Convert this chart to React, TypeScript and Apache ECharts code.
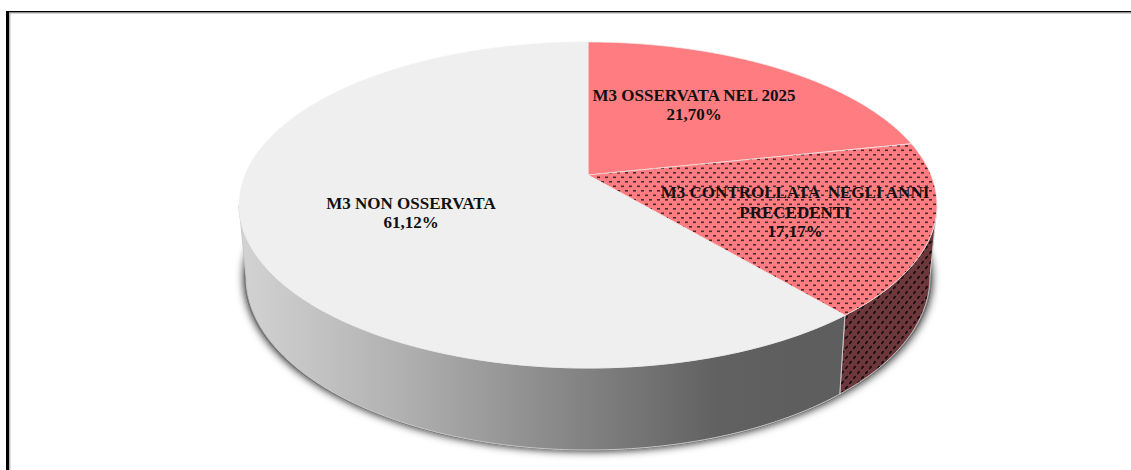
import React, { useEffect, useRef } from "react";
import * as echarts from "echarts";

const sliceNames = ["M3 OSSERVATA NEL 2025", "M3 CONTROLLATA  NEGLI ANNI\nPRECEDENTI", "M3 NON OSSERVATA"];
const sliceValues = [21.7, 17.17, 61.12];
const sliceLabels = ["21,70%", "17,17%", "61,12%"];

// projection of the pie disc
const CX = 588;
const TOP_Y = 175; // where the slices meet
const A = 125.3;
const C = -0.184;
const D = 343;
// top ellipse and base ellipse
const EL = { cy: 205, rx: 349, ry: 163 };
const BASE = { cy: 277, rx: 342, ry: 173 };
const LABEL_POS = [
  [694, 105],
  [795, 212],
  [411, 213],
];

const RAD = Math.PI / 180;
const total = sliceValues.reduce((a, b) => a + b, 0);
const starts: number[] = [];
sliceValues.reduce((acc, v, i) => {
  starts[i] = (acc / total) * 360;
  return acc + v;
}, 0);
const range = (i: number) => [starts[i], starts[i] + (sliceValues[i] / total) * 360];

function topPoint(deg: number): [number, number] {
  const u = Math.sin(deg * RAD);
  const v = -Math.cos(deg * RAD);
  const w = 1 + C * v;
  return [CX + (D * u) / w, (A * v + TOP_Y) / w];
}
function basePoint(deg: number): [number, number] {
  const [x, y] = topPoint(deg);
  const nx = (x - CX) / EL.rx;
  const ny = (y - EL.cy) / EL.ry;
  return [CX + BASE.rx * nx, BASE.cy + BASE.ry * ny];
}
function arc(fn: (d: number) => [number, number], a: number, b: number) {
  const n = Math.max(2, Math.ceil(Math.abs(b - a) / 0.5));
  const pts: [number, number][] = [];
  for (let i = 0; i <= n; i++) pts.push(fn(a + ((b - a) * i) / n));
  return pts;
}
const VIS_RIGHT = 90 + Math.asin(-C) / RAD;
const VIS_LEFT = 360 - VIS_RIGHT;

function tile(w: number, h: number, bg: string, draw: (g: CanvasRenderingContext2D) => void) {
  const c = document.createElement("canvas");
  c.width = w;
  c.height = h;
  const g = c.getContext("2d")!;
  g.fillStyle = bg;
  g.fillRect(0, 0, w, h);
  draw(g);
  return { image: c, repeat: "repeat" as const };
}
function dottedTop() {
  return tile(8, 9, "#ff7d80", (g) => {
    g.fillStyle = "#4a2a30";
    g.fillRect(1, 1, 3, 1.6);
    g.fillRect(5, 5.5, 3, 1.6);
  });
}
function dottedWall() {
  return tile(8, 10, "#6c383c", (g) => {
    g.fillStyle = "#140c0e";
    [
      [2.5, 2.5],
      [6.5, 7.5],
    ].forEach(([x, y]) => {
      g.beginPath();
      g.ellipse(x, y, 2, 1, -0.9, 0, Math.PI * 2);
      g.fill();
    });
  });
}

export default function App() {
  const ref = useRef<HTMLDivElement>(null);
  useEffect(() => {
    const chart = echarts.init(ref.current!, null, { renderer: "svg" });
    const wallGrad = new echarts.graphic.LinearGradient(
      245, 0, 800, 0,
      [
        { offset: 0, color: "#d2d2d2" },
        { offset: 0.27, color: "#b2b2b2" },
        { offset: 0.85, color: "#616161" },
        { offset: 1, color: "#5e5e5e" },
      ],
      true
    );
    const topFill = [{ fill: "#ff7d80" }, { fill: dottedTop() }, { fill: "#efefef" }];
    const wallFill = [null, dottedWall(), wallGrad];
    const lines = sliceNames.map((n, i) => n + "\n" + sliceLabels[i]);

    chart.setOption({
      animation: false,
      backgroundColor: "#fff",
      graphic: [
        { type: "rect", z: 50, shape: { x: 6, y: 11, width: 3, height: 459 }, style: { fill: "#000" } },
        { type: "rect", z: 50, shape: { x: 9, y: 13, width: 1.5, height: 457 }, style: { fill: "#bbb" } },
        { type: "rect", z: 50, shape: { x: 6, y: 11, width: 1125, height: 1.6 }, style: { fill: "#000" } },
        { type: "rect", z: 50, shape: { x: 9, y: 12.6, width: 1122, height: 1 }, style: { fill: "#aaa" } },
      ],
      series: [
        {
          type: "custom",
          coordinateSystem: "none",
          z: 1,
          silent: true,
          data: [0],
          renderItem: () => ({
            type: "ellipse",
            shape: { cx: CX, cy: BASE.cy + 1, rx: BASE.rx + 2, ry: BASE.ry },
            style: { fill: "#777", shadowBlur: 9, shadowColor: "rgba(0,0,0,0.9)" },
          }),
        },
        {
          type: "custom",
          coordinateSystem: "none",
          z: 2,
          silent: true,
          data: sliceValues,
          renderItem: (p: any) => {
            const i = p.dataIndex;
            const [a, b] = range(i);
            const s = Math.max(a, VIS_RIGHT);
            const e = Math.min(b, VIS_LEFT);
            if (e <= s) return { type: "group", children: [] };
            const pts = [...arc(topPoint, s, e), ...arc(basePoint, s, e).reverse()];
            return {
              type: "polygon",
              shape: { points: pts },
              style: { fill: wallFill[i], stroke: "#c8c8c8", lineWidth: 1 },
            };
          },
        },
        {
          type: "custom",
          coordinateSystem: "none",
          z: 3,
          silent: true,
          data: sliceValues,
          renderItem: (p: any) => {
            const i = p.dataIndex;
            const [a, b] = range(i);
            const pts: [number, number][] = [[CX, TOP_Y], ...arc(topPoint, a, b)];
            return {
              type: "polygon",
              shape: { points: pts },
              style: { ...topFill[i], stroke: "#f4f0f0", lineWidth: 0.7 },
            };
          },
        },
        {
          type: "custom",
          coordinateSystem: "none",
          z: 4,
          silent: true,
          data: sliceValues,
          renderItem: (p: any) => {
            const i = p.dataIndex;
            return {
              type: "text",
              x: LABEL_POS[i][0],
              y: LABEL_POS[i][1],
              style: {
                text: lines[i],
                fill: "#111",
                font: 'bold 17px "Liberation Serif"',
                lineHeight: 19.5,
                align: "center",
                verticalAlign: "middle",
              },
            };
          },
        },
      ],
    });
    return () => chart.dispose();
  }, []);
  return <div ref={ref} style={{ position: "absolute", left: 0, top: 0, width: 1131, height: 470 }} />;
}
